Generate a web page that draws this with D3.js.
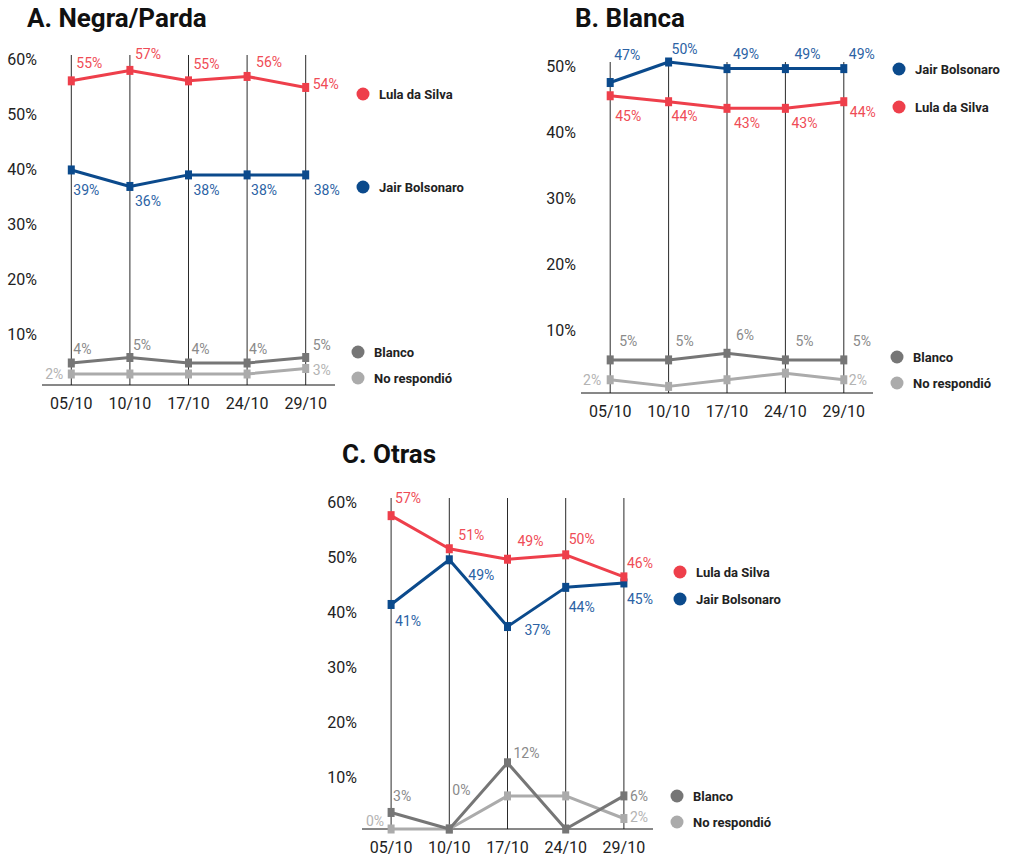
<!DOCTYPE html>
<html>
<head>
<meta charset="utf-8">
<script src="https://cdn.jsdelivr.net/npm/d3@7"></script>
<style>
  html, body { margin: 0; padding: 0; background: #ffffff; }
  svg { display: block; font-family: Roboto, "Noto Sans", Arial, sans-serif; }
</style>
</head>
<body>
<svg id="chart" width="1011" height="857"></svg>
<script>
// ---------- DATA ----------
const dates = ["05/10", "10/10", "17/10", "24/10", "29/10"];
const seriesNames = ["Lula da Silva", "Jair Bolsonaro", "Blanco", "No respondió"];
const panelTitles = ["A. Negra/Parda", "B. Blanca", "C. Otras"];

const ticksA = [10, 20, 30, 40, 50, 60];
const ticksB = [10, 20, 30, 40, 50];
const ticksC = [10, 20, 30, 40, 50, 60];

// A. Negra/Parda
const lulaA    = [55.3, 57.2, 55.3, 56.1, 54.1];
const jairA    = [39.1, 36.1, 38.2, 38.2, 38.2];
const blancoA  = [4.0, 5.0, 4.0, 4.0, 5.0];
const noRespA  = [2.0, 2.0, 2.0, 2.0, 3.0];

// B. Blanca
const jairB    = [46.9, 50.0, 49.0, 49.0, 49.0];
const lulaB    = [44.9, 44.0, 43.0, 43.0, 44.0];
const blancoB  = [5.0, 5.0, 6.0, 5.0, 5.0];
const noRespB  = [2.0, 1.0, 2.0, 3.0, 2.0];

// C. Otras
const lulaC    = [56.8, 50.8, 48.9, 49.7, 45.7];
const jairC    = [40.7, 48.8, 36.7, 43.8, 44.6];
const blancoC  = [3.0, 0.0, 12.0, 0.0, 6.0];
const noRespC  = [0.0, 0.0, 6.0, 6.0, 1.9];

// ---------- STYLE / LAYOUT ----------
const colors = {
  "Lula da Silva":  { line: "#EE3F4B", label: "#EF4C56" },
  "Jair Bolsonaro": { line: "#0B4A8C", label: "#2B62A4" },
  "Blanco":         { line: "#767676", label: "#8A8A8A" },
  "No respondió":   { line: "#ABABAB", label: "#B3B3B3" }
};

// label offsets: [dx, dy] from point (dx<0 => right-aligned to the left); null => no label
const panels = [
  {
    title: panelTitles[0], titleX: 27, titleY: 27,
    xRange: [42, 335], y0: 385, yTop: 55, yMax: 60, ticks: ticksA,
    series: [
      { name: seriesNames[3], values: noRespA, off: [[-8,0],null,null,null,[7,1]] },
      { name: seriesNames[2], values: blancoA, off: [[2,-14],[3,-13],[3,-14],[2,-14],[7,-13]] },
      { name: seriesNames[1], values: jairA,   off: [[2,20],[5,15],[5,15],[4,15],[8,15]] },
      { name: seriesNames[0], values: lulaA,   off: [[5,-18],[5,-16],[5,-17],[9,-14],[7,-3]] }
    ],
    legend: [
      { name: seriesNames[0], x: 363, y: 94 },
      { name: seriesNames[1], x: 363, y: 187 },
      { name: seriesNames[2], x: 358, y: 352 },
      { name: seriesNames[3], x: 358, y: 378 }
    ]
  },
  {
    title: panelTitles[1], titleX: 575, titleY: 27,
    xRange: [581, 873], y0: 393, yTop: 62, yMax: 50, ticks: ticksB,
    series: [
      { name: seriesNames[3], values: noRespB, off: [[-9,0],null,null,null,[5,0]] },
      { name: seriesNames[2], values: blancoB, off: [[9,-19],[7,-19],[9,-18],[10,-19],[9,-19]] },
      { name: seriesNames[0], values: lulaB,   off: [[5,20],[3,14],[7,15],[6,15],[6,10]] },
      { name: seriesNames[1], values: jairB,   off: [[4,-28],[3,-13],[6,-15],[9,-15],[5,-15]] }
    ],
    legend: [
      { name: seriesNames[1], x: 899, y: 69 },
      { name: seriesNames[0], x: 899, y: 107 },
      { name: seriesNames[2], x: 897, y: 357 },
      { name: seriesNames[3], x: 897, y: 383 }
    ]
  },
  {
    title: panelTitles[2], titleX: 342, titleY: 463,
    xRange: [362, 653], y0: 829, yTop: 498, yMax: 60, ticks: ticksC,
    series: [
      { name: seriesNames[3], values: noRespC, off: [[-7,-8],null,null,null,[6,-2]] },
      { name: seriesNames[2], values: blancoC, off: [[2,-16],[3,-39],[6,-10],null,[6,0]] },
      { name: seriesNames[1], values: jairC,   off: [[4,17],[19,15],[17,3],[3,20],[3,16]] },
      { name: seriesNames[0], values: lulaC,   off: [[4,-18],[9,-14],[10,-18],[3,-16],[3,-14]] }
    ],
    legend: [
      { name: seriesNames[0], x: 680, y: 572 },
      { name: seriesNames[1], x: 680, y: 599 },
      { name: seriesNames[2], x: 677, y: 796 },
      { name: seriesNames[3], x: 677, y: 822 }
    ]
  }
];

// ---------- DRAW ----------
const svg = d3.select("#chart");

panels.forEach(p => {
  const g = svg.append("g");
  const x = d3.scalePoint().domain(dates).range(p.xRange).padding(0.5);
  const y = d3.scaleLinear().domain([0, p.yMax]).range([p.y0, p.yTop]);

  // title
  g.append("text")
    .attr("x", p.titleX).attr("y", p.titleY)
    .attr("font-size", 26).attr("font-weight", 700).attr("fill", "#111")
    .text(p.title);

  // vertical gridlines
  g.selectAll(".vgrid").data(dates).join("line")
    .attr("x1", d => x(d)).attr("x2", d => x(d))
    .attr("y1", y(0)).attr("y2", y(p.yMax))
    .attr("stroke", "#2a2a2a").attr("stroke-width", 1);

  // baseline
  g.append("line")
    .attr("x1", p.xRange[0]).attr("x2", p.xRange[1])
    .attr("y1", y(0)).attr("y2", y(0))
    .attr("stroke", "#111").attr("stroke-width", 1);

  // y tick labels
  g.selectAll(".ytick").data(p.ticks).join("text")
    .attr("x", p.xRange[0] - 5)
    .attr("y", d => y(d) + 4)
    .attr("dominant-baseline", "central")
    .attr("text-anchor", "end")
    .attr("font-size", 16).attr("fill", "#222")
    .text(d => d + "%");

  // x tick labels
  g.selectAll(".xtick").data(dates).join("text")
    .attr("x", d => x(d))
    .attr("y", y(0) + 18)
    .attr("dominant-baseline", "central")
    .attr("text-anchor", "middle")
    .attr("font-size", 16).attr("fill", "#222")
    .text(d => d);

  const line = d3.line().x((d, i) => x(dates[i])).y(d => y(d));

  p.series.forEach(s => {
    const c = colors[s.name];
    g.append("path")
      .datum(s.values)
      .attr("d", line)
      .attr("fill", "none")
      .attr("stroke", c.line)
      .attr("stroke-width", 3)
      .attr("stroke-linejoin", "round");

    g.selectAll(null).data(s.values).join("rect")
      .attr("x", (d, i) => x(dates[i]) - 3.5)
      .attr("y", d => y(d) - 4.5)
      .attr("width", 7).attr("height", 9)
      .attr("fill", c.line);
  });

  // labels (drawn after all lines)
  p.series.forEach(s => {
    const c = colors[s.name];
    const lab = s.values.map((v, i) => ({ v, i, off: s.off[i] })).filter(d => d.off);
    g.selectAll(null).data(lab).join("text")
      .attr("x", d => x(dates[d.i]) + d.off[0])
      .attr("y", d => y(d.v) + d.off[1])
      .attr("dominant-baseline", "central")
      .attr("text-anchor", d => d.off[0] < 0 ? "end" : "start")
      .attr("font-size", 14)
      .attr("fill", c.label)
      .text(d => Math.round(d.v) + "%");
  });

  // legend
  p.legend.forEach(l => {
    g.append("circle")
      .attr("cx", l.x).attr("cy", l.y).attr("r", 6.5)
      .attr("fill", colors[l.name].line);
    g.append("text")
      .attr("x", l.x + 16).attr("y", l.y)
      .attr("dominant-baseline", "central")
      .attr("font-size", 13).attr("font-weight", 700).attr("fill", "#222")
      .text(l.name);
  });
});
</script>
</body>
</html>
